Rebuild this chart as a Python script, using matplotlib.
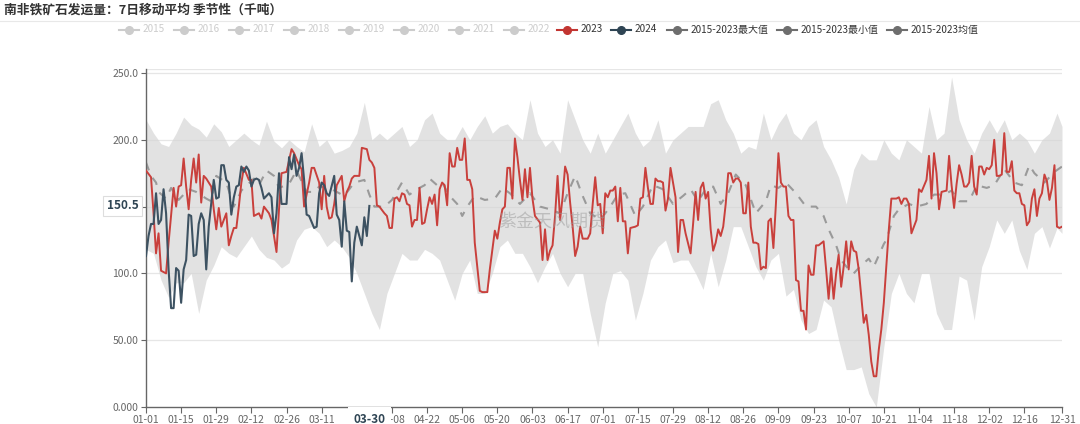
import matplotlib
matplotlib.use("Agg")
import matplotlib.pyplot as plt
from matplotlib.lines import Line2D
from matplotlib.transforms import blended_transform_factory
import pandas as pd

plt.rcParams["font.family"] = ["Noto Sans CJK SC", "DejaVu Sans"]

# x axis: day index on a leap-year calendar (0 = 01-01, 365 = 12-31)
date_labels = pd.date_range("2024-01-01", periods=366).strftime("%m-%d").tolist()

# 2023 (thousand tonnes)
days_2023 = [0, 2, 3, 4, 5, 6, 8, 9, 11, 12, 13, 14, 15, 16, 17, 18, 19, 20, 21, 22, 23, 24, 26, 27, 28, 29, 30,
             32, 33, 34, 35, 36, 37, 38, 39, 41, 42, 43, 45, 46, 47, 49, 50, 52, 53, 54, 56, 58, 59, 61, 62, 63,
             65, 66, 67, 69, 70, 71, 72, 73, 74, 75, 76, 78, 79, 80, 81, 82, 83, 85, 86, 88, 89, 90, 91, 92, 93,
             95, 96, 97, 98, 99, 100, 101, 102, 103, 104, 105, 106, 107, 108, 109, 110, 111, 112, 113, 114, 115,
             116, 117, 118, 119, 120, 121, 122, 123, 124, 125, 126, 127, 128, 129, 130, 131, 133, 134, 136, 137,
             139, 140, 141, 142, 143, 144, 145, 146, 147, 148, 149, 150, 151, 152, 153, 154, 155, 157, 158, 159,
             160, 161, 162, 163, 164, 165, 166, 167, 168, 169, 170, 171, 172, 173, 174, 176, 177, 178, 179, 180,
             181, 182, 183, 184, 185, 186, 187, 188, 189, 190, 191, 192, 193, 195, 196, 197, 198, 199, 200, 201,
             202, 203, 204, 205, 206, 207, 208, 209, 211, 212, 213, 214, 215, 217, 218, 219, 220, 221, 222, 223,
             224, 225, 226, 227, 228, 229, 230, 231, 232, 233, 234, 235, 236, 237, 238, 239, 240, 241, 242, 243,
             244, 245, 246, 247, 248, 249, 250, 251, 252, 253, 254, 255, 256, 257, 258, 259, 260, 261, 262, 263,
             264, 265, 266, 267, 268, 270, 271, 272, 273, 274, 275, 276, 277, 278, 279, 280, 281, 282, 283, 284,
             285, 286, 287, 288, 289, 290, 291, 292, 293, 294, 295, 296, 297, 299, 300, 301, 302, 303, 304, 305,
             306, 307, 308, 309, 311, 312, 313, 314, 315, 316, 317, 319, 320, 321, 322, 323, 324, 325, 326, 327,
             328, 329, 330, 331, 332, 333, 334, 335, 336, 337, 338, 339, 340, 341, 342, 343, 344, 345, 346, 347,
             348, 349, 350, 351, 352, 353, 354, 355, 356, 357, 358, 359, 360, 361, 362, 363, 364, 365]
vals_2023 = [177, 172, 145, 115, 130, 102, 100, 123, 164, 150, 165, 166, 186, 165, 148, 170, 186, 168, 189, 153,
             173, 171, 165, 148, 133, 149, 135, 145, 121, 128, 134, 134, 150, 168, 179, 170, 170, 143, 145, 141,
             150, 145, 140, 116, 148, 175, 176, 193, 190, 181, 178, 150, 168, 179, 179, 168, 148, 173, 150, 141,
             142, 152, 166, 173, 154, 161, 165, 171, 173, 173, 194, 193, 185, 183, 179, 151, 150, 145, 143, 134,
             134, 156, 157, 154, 160, 159, 152, 151, 135, 140, 140, 164, 137, 138, 148, 157, 152, 159, 136, 163,
             168, 166, 151, 190, 180, 180, 194, 185, 185, 201, 170, 170, 163, 123, 87, 86, 86, 103, 132, 126,
             138, 148, 150, 179, 179, 156, 201, 187, 170, 155, 178, 157, 179, 156, 143, 138, 110, 133, 110, 117,
             121, 143, 173, 140, 157, 180, 174, 153, 135, 113, 120, 135, 126, 126, 130, 152, 172, 151, 152, 130,
             160, 157, 162, 162, 165, 139, 164, 139, 139, 115, 134, 135, 136, 156, 157, 179, 164, 152, 152, 171,
             169, 169, 168, 147, 156, 179, 157, 116, 140, 140, 130, 115, 137, 161, 140, 164, 168, 156, 161, 133,
             117, 123, 133, 128, 135, 152, 175, 175, 168, 171, 171, 168, 145, 145, 168, 135, 123, 123, 122, 103,
             105, 104, 139, 141, 119, 152, 190, 168, 165, 165, 143, 140, 140, 95, 94, 72, 72, 58, 106, 99, 99,
             121, 121, 124, 103, 81, 104, 81, 100, 114, 90, 105, 124, 103, 124, 117, 116, 103, 83, 63, 69, 54,
             34, 23, 23, 43, 58, 78, 105, 133, 156, 156, 157, 152, 156, 156, 152, 130, 135, 140, 163, 161, 170,
             188, 156, 190, 175, 148, 161, 162, 188, 166, 149, 167, 181, 174, 165, 165, 168, 188, 165, 159, 180,
             180, 174, 179, 178, 181, 200, 173, 173, 174, 205, 176, 176, 184, 162, 160, 160, 152, 151, 136, 139,
             156, 163, 143, 156, 160, 174, 169, 155, 164, 181, 135, 134, 135]

# 2024 (to 03-30)
days_2024 = [0, 1, 2, 3, 4, 5, 6, 7, 8, 9, 10, 11, 12, 13, 14, 15, 16, 17, 18, 19, 20, 21, 22, 23, 24, 25, 27,
             28, 29, 30, 31, 32, 33, 34, 35, 36, 37, 38, 39, 40, 41, 42, 43, 44, 45, 46, 47, 49, 50, 51, 52, 53,
             54, 56, 57, 58, 59, 60, 61, 62, 63, 64, 65, 67, 68, 69, 70, 71, 72, 73, 75, 76, 77, 78, 79, 80, 81,
             82, 83, 84, 85, 86, 87, 88, 89]
vals_2024 = [113, 128, 137, 137, 160, 137, 140, 163, 145, 103, 74, 74, 104, 102, 78, 103, 110, 144, 143, 113,
             114, 137, 145, 140, 103, 135, 170, 156, 157, 181, 181, 170, 168, 144, 157, 165, 166, 180, 176, 180,
             177, 165, 170, 171, 170, 164, 156, 160, 157, 130, 145, 175, 152, 152, 187, 178, 189, 173, 179, 190,
             170, 144, 143, 134, 135, 160, 168, 166, 160, 158, 173, 144, 140, 120, 154, 132, 131, 94, 123, 135,
             128, 121, 142, 128, 150.5]

# 2015-2023 max / min band
band_days = list(range(0, 364, 3)) + [365]
band_max = [215, 205, 197, 195, 205, 217, 211, 208, 202, 212, 206, 195, 200, 205, 200, 196, 214, 199, 194, 200,
            195, 191, 212, 195, 200, 190, 192, 195, 205, 228, 200, 205, 200, 205, 210, 195, 200, 215, 220, 205,
            200, 200, 210, 200, 210, 218, 205, 210, 212, 205, 200, 230, 205, 195, 200, 190, 230, 215, 200, 190,
            205, 190, 200, 210, 220, 205, 195, 200, 215, 190, 200, 205, 210, 210, 210, 227, 230, 215, 205, 190,
            195, 193, 220, 200, 212, 220, 205, 200, 210, 215, 195, 185, 172, 152, 178, 190, 185, 185, 200, 190,
            185, 200, 195, 190, 225, 200, 205, 247, 215, 200, 190, 205, 215, 205, 215, 200, 205, 200, 190, 200,
            205, 220, 210]
band_min = [118, 115, 95, 82, 93, 93, 100, 70, 95, 106, 120, 115, 112, 120, 128, 118, 112, 110, 104, 108,
            125, 133, 135, 130, 120, 125, 120, 112, 100, 85, 70, 58, 85, 100, 115, 110, 110, 118, 115, 110,
            95, 80, 100, 110, 85, 85, 100, 120, 125, 115, 115, 105, 93, 105, 115, 100, 90, 100, 100, 70,
            45, 78, 100, 102, 95, 65, 85, 110, 120, 125, 108, 110, 110, 100, 88, 115, 90, 110, 135, 135,
            120, 105, 95, 110, 115, 83, 88, 65, 55, 58, 80, 75, 50, 28, 28, 30, 10, 0, 45, 85,
            100, 85, 78, 100, 100, 70, 58, 58, 98, 95, 65, 105, 120, 140, 130, 140, 117, 103, 130, 135,
            119, 134, 130]

# 2015-2023 mean
mean_days = [0, 2, 4, 5, 8, 10, 13, 17, 20, 24, 26, 28, 32, 35, 38, 43, 45, 48, 51, 53, 57, 60, 64, 67, 69, 73,
             79, 83, 87, 89, 91, 95, 98, 102, 105, 108, 111, 113, 116, 118, 121, 124, 126, 128, 131, 135, 139,
             142, 145, 149, 153, 157, 161, 165, 168, 171, 174, 177, 181, 185, 188, 191, 195, 198, 202, 206, 210,
             214, 217, 220, 223, 226, 229, 232, 235, 239, 243, 247, 249, 252, 255, 259, 263, 267, 270, 272, 275,
             277, 280, 282, 285, 288, 290, 294, 295, 298, 300, 304, 307, 311, 314, 318, 321, 324, 328, 331, 335,
             338, 342, 346, 349, 352, 354, 358, 362, 365]
mean_vals = [183, 173, 168, 161, 156, 164, 155, 163, 161, 156, 154, 173, 168, 150, 162, 171, 166, 177, 173, 164,
             167, 177, 161, 161, 165, 164, 158, 168, 170, 159, 150, 150, 155, 168, 159, 163, 166, 171, 166, 168,
             158, 152, 143, 150, 158, 155, 156, 164, 160, 152, 160, 150, 148, 145, 160, 173, 158, 145, 140, 150,
             159, 160, 143, 150, 166, 163, 152, 158, 163, 154, 163, 165, 152, 160, 174, 166, 145, 154, 166, 164,
             168, 160, 150, 150, 143, 133, 121, 110, 103, 100, 106, 111, 105, 122, 125, 143, 148, 152, 150, 152,
             159, 159, 162, 154, 154, 166, 164, 166, 178, 168, 166, 181, 175, 168, 176, 180]

legend_grey = ["2015", "2016", "2017", "2018", "2019", "2020", "2021", "2022"]
legend_active = [("2023", "#c23531"), ("2024", "#2f4554"), ("2015-2023最大值", "#6e6e6e"),
                 ("2015-2023最小值", "#6e6e6e"), ("2015-2023均值", "#6e6e6e")]

W, H = 1080, 424
fig = plt.figure(figsize=(W / 100, H / 100), dpi=100)
ax = fig.add_axes([146 / W, (H - 407) / H, 916 / W, 338 / H])

ax.fill_between(band_days, band_min, band_max, color="#d6d6d6", alpha=0.7, linewidth=0, zorder=1)
ax.plot(mean_days, mean_vals, color="#9a9a9a", lw=1.5, dashes=(4, 4), zorder=2)
ax.plot(days_2023, vals_2023, color="#c9403c", lw=1.4, zorder=3)
ax.plot(days_2024, vals_2024, color="#3d5262", lw=1.5, zorder=4)

ax.set_xlim(0, 365)
ax.set_ylim(0, 253)
yt = [0, 50, 100, 150, 200, 250]
ax.set_yticks(yt)
# 150.0 sits under the pointer label in the reference
ax.set_yticklabels(["0.000", "50.00", "100.0", "", "200.0", "250.0"])
xt = list(range(0, 351, 14)) + [365]
ax.set_xticks(xt)
# 03-25 is hidden under the 03-30 pointer label
ax.set_xticklabels(["" if date_labels[i] == "03-25" else date_labels[i] for i in xt])
ax.tick_params(axis="both", colors="#666666", labelsize=7.5, length=3.5, width=0.8, pad=2)
ax.tick_params(axis="x", length=4)
for s in ["top", "right"]:
    ax.spines[s].set_visible(False)
for s in ["left", "bottom"]:
    ax.spines[s].set_color("#666666")
    ax.spines[s].set_linewidth(1)
for v in yt[1:] + [253]:
    ax.axhline(v, color="#e6e6e6", lw=0.9, zorder=0)

# axis pointer labels
ytr = blended_transform_factory(ax.transAxes, ax.transData)
ax.text(-0.008, vals_2024[-1], f"{vals_2024[-1]}", transform=ytr, ha="right", va="center",
        fontsize=8.5, fontweight="bold", color="#2f4554",
        bbox=dict(boxstyle="square,pad=0.3", fc="white", ec="#dddddd", lw=0.8), zorder=10)
xtr = blended_transform_factory(ax.transData, ax.transAxes)
ax.text(days_2024[-1], -0.036, date_labels[days_2024[-1]], transform=xtr, ha="center", va="center",
        fontsize=8.5, fontweight="bold", color="#2f4554",
        bbox=dict(boxstyle="square,pad=0.45", fc="white", ec="none"), zorder=10, clip_on=False)

# watermark
fig.text(552 / W, 1 - 222 / H, "紫金天风期货", fontsize=13, color="#9a9a9a", alpha=0.5,
         ha="center", va="center")

# title and separator
fig.text(4 / W, 1 - 10 / H, "南非铁矿石发运量：7日移动平均 季节性（千吨）", fontsize=9.2,
         fontweight="bold", color="#333333", ha="left", va="center")
fig.add_artist(Line2D([0, 1], [1 - 20.5 / H] * 2, transform=fig.transFigure, color="#e8e8e8", lw=0.8))

# legend
ly = 1 - 29.5 / H
items = [(t, "#cccccc", "#cccccc") for t in legend_grey] + [(t, c, "#333333") for t, c in legend_active]
starts = [119 + 55 * i for i in range(8)] + [557, 611, 667, 777, 887]
for (label, c, tc), x0 in zip(items, starts):
    fig.add_artist(Line2D([x0 / W, (x0 + 20) / W], [ly, ly], transform=fig.transFigure, color=c, lw=1.5))
    fig.add_artist(Line2D([(x0 + 10) / W], [ly], transform=fig.transFigure, color=c, marker="o",
                          markersize=5.5, lw=0))
    fig.text((x0 + 24) / W, ly, label, fontsize=7.2, color=tc, ha="left", va="center")

fig.savefig("out.png", dpi=100)
